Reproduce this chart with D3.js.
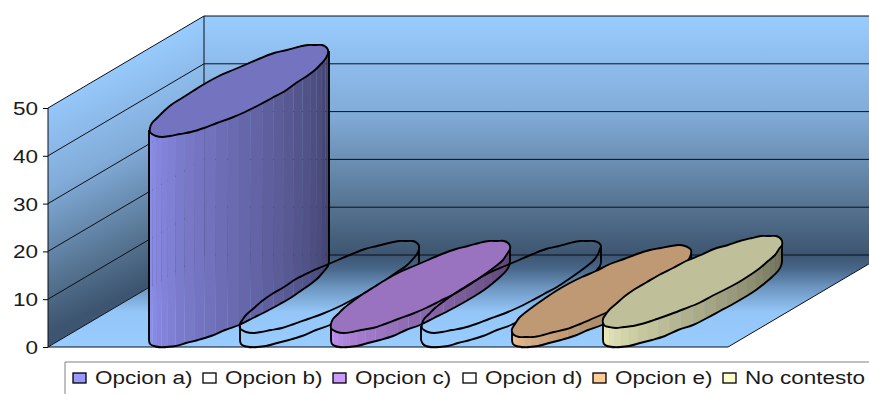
<!DOCTYPE html>
<html>
<head>
<meta charset="utf-8">
<script src="https://cdn.jsdelivr.net/npm/d3@7"></script>
<style>
  html, body { margin: 0; padding: 0; background: #fff; overflow: hidden; }
  svg { display: block; }
  text { font-family: "Liberation Sans", Arial, sans-serif; fill: #1a1a1a; }
</style>
</head>
<body>
<svg id="chart" width="869" height="394"></svg>
<script>
const categories = ["Opcion a)", "Opcion b)", "Opcion c)", "Opcion d)", "Opcion e)", "No contesto"];
const values = [44, 3, 3, 3, 2, 4];
const fills = ["#9999FF", "none", "#CC99FF", "none", "#FFCC99", "#FFFFCC"];
const tickValues = [0, 10, 20, 30, 40, 50];

const svg = d3.select("#chart");
const defs = svg.append("defs");

// Oblique projection of the 3-D box
const y = d3.scaleLinear().domain([0, 50]).range([347, 108]);
const x = d3.scalePoint().domain(categories).range([239, 692.5]);
const frontX = 48, backX = 204, rightX = 869, floorEndX = 728;
const depthX = backX - frontX;
const depthY = 92;
const backY = v => y(v) - depthY;

// Elliptical footprint of a cylinder, sheared along the depth direction
const radiusU = 46, shearX = 77, radiusY = 46;
const footprintY = y(0) - radiusY;
const rimPoint = (cx, h, t) => [
  cx + radiusU * Math.cos(t) + shearX * Math.sin(t),
  footprintY - radiusY * Math.sin(t) - h
];
const rightAngle = Math.atan2(shearX, radiusU);
const leftAngle = rightAngle + Math.PI;
const endAngle = rightAngle + 2 * Math.PI;

// Rim outlines sit on the device grid, which gives them a slightly uneven edge
const snap = p => [Math.round(p[0]), Math.round(p[1])];

// Wall and floor shading
function gradient(id, coords, stops) {
  const g = defs.append("linearGradient").attr("id", id)
    .attr("gradientUnits", "userSpaceOnUse")
    .attr("x1", coords[0]).attr("y1", coords[1])
    .attr("x2", coords[2]).attr("y2", coords[3]);
  stops.forEach(s => g.append("stop").attr("offset", s[0]).attr("stop-color", s[1]));
}
const wallStops = [[0, "#99CCFF"], [0.4, "#82ACD9"], [0.8, "#557390"], [1, "#3D5570"]];
gradient("wallBack", [0, y(50) - depthY, 0, y(0) - depthY], wallStops);
gradient("wallSide", [backX, backY(50), backX + 94, backY(50) + 195], wallStops);
gradient("floor", [0, backY(0), 0, y(0)],
  [[0, "#3D5570"], [0.15, "#48678A"], [0.35, "#6C95C0"], [0.62, "#94C6F8"], [1, "#99CCFF"]]);

const polyLine = d3.line();
const smoothClosed = d3.line().curve(d3.curveCatmullRomClosed.alpha(0.5));
const smoothOpen = d3.line().curve(d3.curveCatmullRom.alpha(0.5));

const wall = svg.append("g");
wall.append("path")
  .attr("d", polyLine([[frontX, y(50)], [backX, backY(50)], [backX, backY(0)], [frontX, y(0)]]) + "Z")
  .attr("fill", "url(#wallSide)");
wall.append("path")
  .attr("d", polyLine([[backX, backY(50)], [rightX, backY(50)], [rightX, backY(0)], [backX, backY(0)]]) + "Z")
  .attr("fill", "url(#wallBack)");
const floorSlope = depthY / depthX;
wall.append("path")
  .attr("d", polyLine([[frontX, y(0)], [backX, backY(0)], [rightX, backY(0)],
    [rightX, y(0) - (rightX - floorEndX) * floorSlope], [floorEndX, y(0)]]) + "Z")
  .attr("fill", "url(#floor)");

// Grid lines across both walls
const grid = svg.append("g").attr("stroke", "#0a0f18").attr("stroke-width", 1).attr("fill", "none");
tickValues.forEach(v => {
  grid.append("path").attr("d", polyLine([[frontX, y(v)], [backX, backY(v)], [rightX, backY(v)]]));
});
grid.append("path").attr("d", polyLine([[backX, backY(50)], [backX, backY(0)]]));
grid.append("path").attr("d", polyLine([[frontX, y(50)], [frontX, y(0)], [floorEndX, y(0)],
  [rightX, y(0) - (rightX - floorEndX) * floorSlope]]));

// Cylinders, painted left to right so later ones overlap earlier ones
const facetCount = 24;
const rimSamples = 40;
const sideTone = d3.scaleLinear().domain([0, facetCount - 1]).range([0.94, 0.42]);
const toneOf = (hex, k) => {
  const c = d3.rgb(hex);
  return d3.rgb(c.r * k, c.g * k, c.b * k).formatHex();
};

categories.forEach((cat, i) => {
  const cx = x(cat), h = y(0) - y(values[i]), fill = fills[i];
  const g = svg.append("g").attr("class", "bar");
  const span = endAngle - leftAngle;

  if (fill !== "none") {
    d3.range(facetCount).forEach(k => {
      const t0 = leftAngle + span * k / facetCount;
      const t1 = leftAngle + span * (k + 1) / facetCount;
      g.append("path")
        .attr("d", polyLine([rimPoint(cx, h, t0), rimPoint(cx, h, t1), rimPoint(cx, 0, t1), rimPoint(cx, 0, t0)]) + "Z")
        .attr("fill", toneOf(fill, sideTone(k)));
    });
  }

  // Front of the base and the two vertical edges
  const arcSteps = rimSamples / 2;
  const baseArc = d3.range(arcSteps + 1)
    .map(k => snap(rimPoint(cx, 0, leftAngle + span * k / arcSteps)));
  const baseStart = baseArc[0], baseEnd = baseArc[baseArc.length - 1];
  g.append("path")
    .attr("d", polyLine([[baseStart[0], snap(rimPoint(cx, h, leftAngle))[1]], baseStart]))
    .attr("stroke", "#000").attr("stroke-width", 1.9);
  g.append("path")
    .attr("d", polyLine([[baseEnd[0], snap(rimPoint(cx, h, endAngle))[1]], baseEnd]))
    .attr("stroke", "#000").attr("stroke-width", 1.9);
  g.append("path").attr("d", smoothOpen(baseArc))
    .attr("fill", "none").attr("stroke", "#000").attr("stroke-width", 1.9);

  // Top face
  const rim = d3.range(rimSamples).map(k => snap(rimPoint(cx, h, 2 * Math.PI * k / rimSamples)));
  g.append("path").attr("d", smoothClosed(rim))
    .attr("fill", fill === "none" ? "none" : toneOf(fill, 0.75))
    .attr("stroke", "#000").attr("stroke-width", 1.9);

  // Faint mark where the cylinder meets the front edge of the floor
  const foot = rimPoint(cx, 0, -Math.PI / 2)[0];
  g.append("path").attr("d", polyLine([[foot - 4, y(0) + 1.5], [foot + 4, y(0) + 1.5]]))
    .attr("stroke", "#c4c4c4").attr("stroke-width", 1);
});

// Value axis
const axis = svg.append("g").attr("transform", `translate(${frontX},0)`)
  .call(d3.axisLeft(y).tickValues(tickValues).tickSize(5).tickPadding(0).tickFormat(d3.format("d")));
axis.select(".domain").remove();
axis.selectAll(".tick line").attr("stroke", "#000");
axis.selectAll(".tick text")
  .attr("x", -8).attr("dy", "0.36em")
  .style("font-size", "18px")
  .attr("text-anchor", "end")
  .attr("transform", "scale(1.25,1)");

// Legend frame runs off the right and bottom edges
const legend = svg.append("g");
legend.append("path").attr("d", polyLine([[65, 394], [65, 362], [869, 362]]))
  .attr("fill", "none").attr("stroke", "#808080").attr("stroke-width", 1);
const legendX = d3.scalePoint().domain(categories).range([73, 723]);
const legendFills = fills.map(f => f === "none" ? "#FFFFFF" : f);
categories.forEach((cat, i) => {
  const lx = legendX(cat);
  legend.append("rect").attr("x", lx).attr("y", 373).attr("width", 13).attr("height", 10)
    .attr("fill", legendFills[i]).attr("stroke", "#000").attr("stroke-width", 1.3);
  legend.append("text").text(cat)
    .attr("transform", `translate(${lx + 22},383.5) scale(1.25,1)`)
    .style("font-size", "18px");
});
</script>
</body>
</html>
